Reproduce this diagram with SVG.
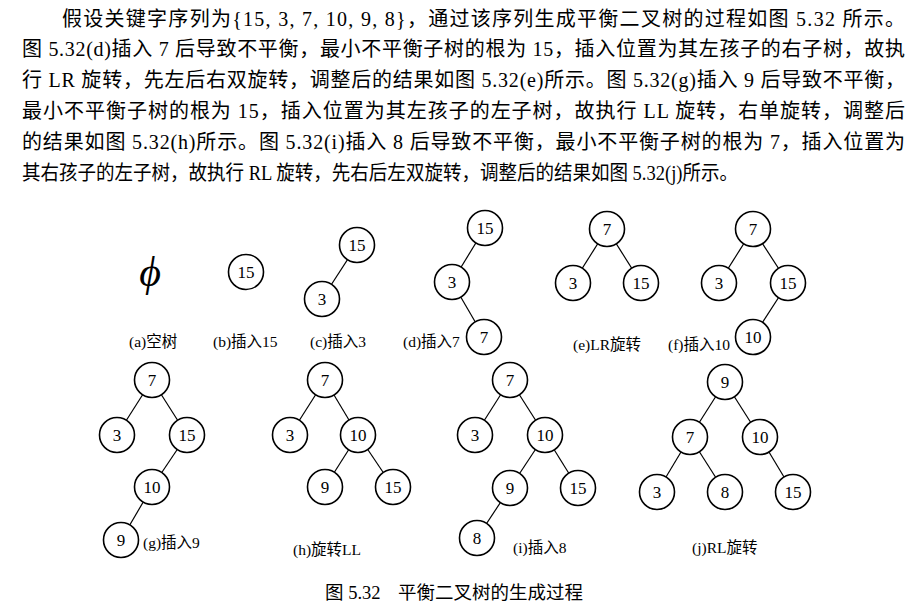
<svg xmlns="http://www.w3.org/2000/svg" width="919" height="613" viewBox="0 0 919 613">
<style>
.para{font-family:"Liberation Serif","Noto Sans CJK SC",serif;font-size:20px;fill:#000}
.lbl{font-family:"Liberation Serif","Noto Sans CJK SC",serif;font-size:15.5px;fill:#000}
.cap{font-family:"Liberation Serif","Noto Sans CJK SC",serif;font-size:18.5px;fill:#000}
.node circle{fill:#fff;stroke:#000;stroke-width:1.6}
.node text{font-family:"Liberation Serif",serif;font-size:17px;text-anchor:middle;fill:#000}
.edges line{stroke:#000;stroke-width:1.2}
</style>
<rect width="919" height="613" fill="#fff"/>
<g id="paragraph">
<text class="para" x="62" y="25.5" textLength="843" lengthAdjust="spacing">假设关键字序列为{15, 3, 7, 10, 9, 8}，通过该序列生成平衡二叉树的过程如图 5.32 所示。</text>
<text class="para" x="22" y="56.3" textLength="883" lengthAdjust="spacing">图 5.32(d)插入 7 后导致不平衡，最小不平衡子树的根为 15，插入位置为其左孩子的右子树，故执</text>
<text class="para" x="22" y="87.1" textLength="883" lengthAdjust="spacing">行 LR 旋转，先左后右双旋转，调整后的结果如图 5.32(e)所示。图 5.32(g)插入 9 后导致不平衡，</text>
<text class="para" x="22" y="117.9" textLength="883" lengthAdjust="spacing">最小不平衡子树的根为 15，插入位置为其左孩子的左子树，故执行 LL 旋转，右单旋转，调整后</text>
<text class="para" x="22" y="148.7" textLength="883" lengthAdjust="spacing">的结果如图 5.32(h)所示。图 5.32(i)插入 8 后导致不平衡，最小不平衡子树的根为 7，插入位置为</text>
<text class="para" x="22" y="179.5" textLength="716" lengthAdjust="spacingAndGlyphs">其右孩子的左子树，故执行 RL 旋转，先右后左双旋转，调整后的结果如图 5.32(j)所示。</text>
</g>
<g id="connectors" class="edges">
<line x1="357" y1="245" x2="322" y2="299"/>
<line x1="485" y1="228" x2="452" y2="282"/>
<line x1="452" y1="282" x2="484" y2="337"/>
<line x1="607" y1="229" x2="573" y2="283"/>
<line x1="607" y1="229" x2="641" y2="283"/>
<line x1="753" y1="229" x2="719" y2="283"/>
<line x1="753" y1="229" x2="788" y2="283"/>
<line x1="788" y1="283" x2="753" y2="337"/>
<line x1="152" y1="380" x2="117" y2="435"/>
<line x1="152" y1="380" x2="187" y2="435"/>
<line x1="187" y1="435" x2="152" y2="487"/>
<line x1="152" y1="487" x2="121" y2="540"/>
<line x1="325" y1="380" x2="290" y2="435"/>
<line x1="325" y1="380" x2="358" y2="435"/>
<line x1="358" y1="435" x2="325" y2="487"/>
<line x1="358" y1="435" x2="393" y2="487"/>
<line x1="510" y1="380" x2="475" y2="435"/>
<line x1="510" y1="380" x2="545" y2="435"/>
<line x1="545" y1="435" x2="510" y2="488"/>
<line x1="545" y1="435" x2="578" y2="488"/>
<line x1="510" y1="488" x2="477" y2="538"/>
<line x1="725" y1="382" x2="690" y2="437"/>
<line x1="725" y1="382" x2="760" y2="437"/>
<line x1="690" y1="437" x2="657" y2="492"/>
<line x1="690" y1="437" x2="725" y2="492"/>
<line x1="760" y1="437" x2="793" y2="492"/>
</g>
<g id="tree-a">
<text x="150" y="286" style="font-family:'Liberation Serif','DejaVu Serif',serif;font-size:42px;font-style:italic;text-anchor:middle">ϕ</text>
</g>
<g id="b15" class="node"><circle cx="246" cy="272" r="17.5"/><text x="246" y="278">15</text></g>
<g id="c15" class="node"><circle cx="357" cy="245" r="17.5"/><text x="357" y="251">15</text></g>
<g id="c3" class="node"><circle cx="322" cy="299" r="17.5"/><text x="322" y="305">3</text></g>
<g id="d15" class="node"><circle cx="485" cy="228" r="17.5"/><text x="485" y="234">15</text></g>
<g id="d3" class="node"><circle cx="452" cy="282" r="17.5"/><text x="452" y="288">3</text></g>
<g id="d7" class="node"><circle cx="484" cy="337" r="17.5"/><text x="484" y="343">7</text></g>
<g id="e7" class="node"><circle cx="607" cy="229" r="17.5"/><text x="607" y="235">7</text></g>
<g id="e3" class="node"><circle cx="573" cy="283" r="17.5"/><text x="573" y="289">3</text></g>
<g id="e15" class="node"><circle cx="641" cy="283" r="17.5"/><text x="641" y="289">15</text></g>
<g id="f7" class="node"><circle cx="753" cy="229" r="17.5"/><text x="753" y="235">7</text></g>
<g id="f3" class="node"><circle cx="719" cy="283" r="17.5"/><text x="719" y="289">3</text></g>
<g id="f15" class="node"><circle cx="788" cy="283" r="17.5"/><text x="788" y="289">15</text></g>
<g id="f10" class="node"><circle cx="753" cy="337" r="17.5"/><text x="753" y="343">10</text></g>
<g id="g7" class="node"><circle cx="152" cy="380" r="17.5"/><text x="152" y="386">7</text></g>
<g id="g3" class="node"><circle cx="117" cy="435" r="17.5"/><text x="117" y="441">3</text></g>
<g id="g15" class="node"><circle cx="187" cy="435" r="17.5"/><text x="187" y="441">15</text></g>
<g id="g10" class="node"><circle cx="152" cy="487" r="17.5"/><text x="152" y="493">10</text></g>
<g id="g9" class="node"><circle cx="121" cy="540" r="17.5"/><text x="121" y="546">9</text></g>
<g id="h7" class="node"><circle cx="325" cy="380" r="17.5"/><text x="325" y="386">7</text></g>
<g id="h3" class="node"><circle cx="290" cy="435" r="17.5"/><text x="290" y="441">3</text></g>
<g id="h10" class="node"><circle cx="358" cy="435" r="17.5"/><text x="358" y="441">10</text></g>
<g id="h9" class="node"><circle cx="325" cy="487" r="17.5"/><text x="325" y="493">9</text></g>
<g id="h15" class="node"><circle cx="393" cy="487" r="17.5"/><text x="393" y="493">15</text></g>
<g id="i7" class="node"><circle cx="510" cy="380" r="17.5"/><text x="510" y="386">7</text></g>
<g id="i3" class="node"><circle cx="475" cy="435" r="17.5"/><text x="475" y="441">3</text></g>
<g id="i10" class="node"><circle cx="545" cy="435" r="17.5"/><text x="545" y="441">10</text></g>
<g id="i9" class="node"><circle cx="510" cy="488" r="17.5"/><text x="510" y="494">9</text></g>
<g id="i15" class="node"><circle cx="578" cy="488" r="17.5"/><text x="578" y="494">15</text></g>
<g id="i8" class="node"><circle cx="477" cy="538" r="17.5"/><text x="477" y="544">8</text></g>
<g id="j9" class="node"><circle cx="725" cy="382" r="17.5"/><text x="725" y="388">9</text></g>
<g id="j7" class="node"><circle cx="690" cy="437" r="17.5"/><text x="690" y="443">7</text></g>
<g id="j10" class="node"><circle cx="760" cy="437" r="17.5"/><text x="760" y="443">10</text></g>
<g id="j3" class="node"><circle cx="657" cy="492" r="17.5"/><text x="657" y="498">3</text></g>
<g id="j8" class="node"><circle cx="725" cy="492" r="17.5"/><text x="725" y="498">8</text></g>
<g id="j15" class="node"><circle cx="793" cy="492" r="17.5"/><text x="793" y="498">15</text></g>
<g id="labels">
<text class="lbl" x="129" y="347">(a)空树</text>
<text class="lbl" x="213" y="347">(b)插入15</text>
<text class="lbl" x="310" y="347">(c)插入3</text>
<text class="lbl" x="403" y="347">(d)插入7</text>
<text class="lbl" x="573" y="350">(e)LR旋转</text>
<text class="lbl" x="668" y="350">(f)插入10</text>
<text class="lbl" x="143" y="548">(g)插入9</text>
<text class="lbl" x="293" y="555">(h)旋转LL</text>
<text class="lbl" x="513" y="553">(i)插入8</text>
<text class="lbl" x="692" y="553">(j)RL旋转</text>
</g>
<g id="caption">
<text class="cap" x="325" y="598.5">图 5.32</text>
<text class="cap" x="398" y="598.5">平衡二叉树的生成过程</text>
</g>
</svg>
